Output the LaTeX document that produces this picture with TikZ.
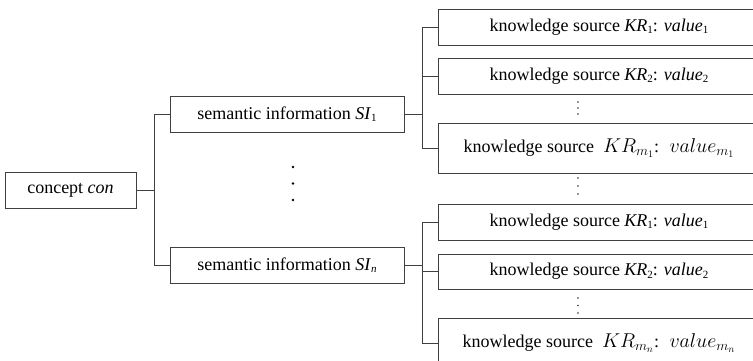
\RequirePackage{fix-cm}
\documentclass[tikz,border=0pt]{standalone}
\usepackage{fontspec}
\setmainfont{Liberation Serif}
\newcommand{\lsub}[1]{\raisebox{-0.3ex}{\fontsize{11}{11}\selectfont #1}}
\newcommand{\bigmath}[1]{{\fontsize{20}{20}\selectfont$#1$}}
\begin{document}
\begin{tikzpicture}[x=1pt,y=-1pt,
  box/.style={draw=black!75, line width=0.8pt, inner sep=0pt, font=\fontsize{18}{21}\selectfont},
  sibox/.style={box, minimum width=234pt, minimum height=36pt},
  krbox/.style={box, minimum width=322pt, minimum height=36pt},
  krtall/.style={box, minimum width=322pt, minimum height=50pt},
  link/.style={draw=black!75, line width=0.8pt},
  smalldot/.style={circle, fill=black!80, inner sep=0pt, minimum size=1.8pt},
  bigdot/.style={circle, fill=black, inner sep=0pt, minimum size=2.8pt}]
\clip (0,0) rectangle (753,360);
\useasboundingbox (0,0) rectangle (753,360);

% concept
\node[box, minimum width=131pt, minimum height=36pt] (c) at (70.5,190) {concept \textit{con}};

% semantic information
\node[sibox] (si1) at (287,114) {semantic information \textit{SI}\lsub{1}};
\node[sibox] (sin) at (287,265) {semantic information \textit{SI}\lsub{\textit{n}}};

\node[bigdot] (d1) at (293,167) {};
\node[bigdot] (d2) at (293,183.5) {};
\node[bigdot] (d3) at (293,200) {};

% knowledge sources, group 1
\node[krbox] (k1) at (599,27) {knowledge source \textit{KR}\lsub{1}: \textit{value}\lsub{1}};
\node[krbox] (k2) at (599,76) {knowledge source \textit{KR}\lsub{2}: \textit{value}\lsub{2}};
\node[smalldot] (v1a) at (578,102) {};
\node[smalldot] (v1b) at (578,108) {};
\node[smalldot] (v1c) at (578,114) {};
\node[krtall] (k3) at (599,148) {knowledge source~ \bigmath{KR_{m_1}}:~ \bigmath{value_{m_1}}};
\node[smalldot] (v2a) at (578,178) {};
\node[smalldot] (v2b) at (578,186) {};
\node[smalldot] (v2c) at (578,194) {};

% knowledge sources, group n
\node[krbox] (k4) at (599,222) {knowledge source \textit{KR}\lsub{1}: \textit{value}\lsub{1}};
\node[krbox, minimum height=35pt] (k5) at (599,271.5) {knowledge source \textit{KR}\lsub{2}: \textit{value}\lsub{2}};
\node[smalldot] (v3a) at (578,298) {};
\node[smalldot] (v3b) at (578,305.5) {};
\node[smalldot] (v3c) at (578,313) {};
\node[krtall] (k6) at (599,343) {knowledge source~ \bigmath{KR_{m_n}}:~ \bigmath{value_{m_n}}};

% connectors level 1
\coordinate (b0) at (154,190);
\draw[link] (c.east) -- (c.east -| b0);
\draw[link] (si1.west) -- (si1.west -| b0) -- (sin.west -| b0) -- (sin.west);

% connectors level 2
\coordinate (b1) at (422,0);
\draw[link] (si1.east) -- (si1.east -| b1);
\draw[link] (k1.west) -- (k1.west -| b1) -- (k3.west -| b1) -- (k3.west);
\draw[link] (k2.west) -- (k2.west -| b1);

\draw[link] (sin.east) -- (sin.east -| b1);
\draw[link] (k4.west) -- (k4.west -| b1) -- (k6.west -| b1) -- (k6.west);
\draw[link] (k5.west) -- (k5.west -| b1);
\end{tikzpicture}
\end{document}
